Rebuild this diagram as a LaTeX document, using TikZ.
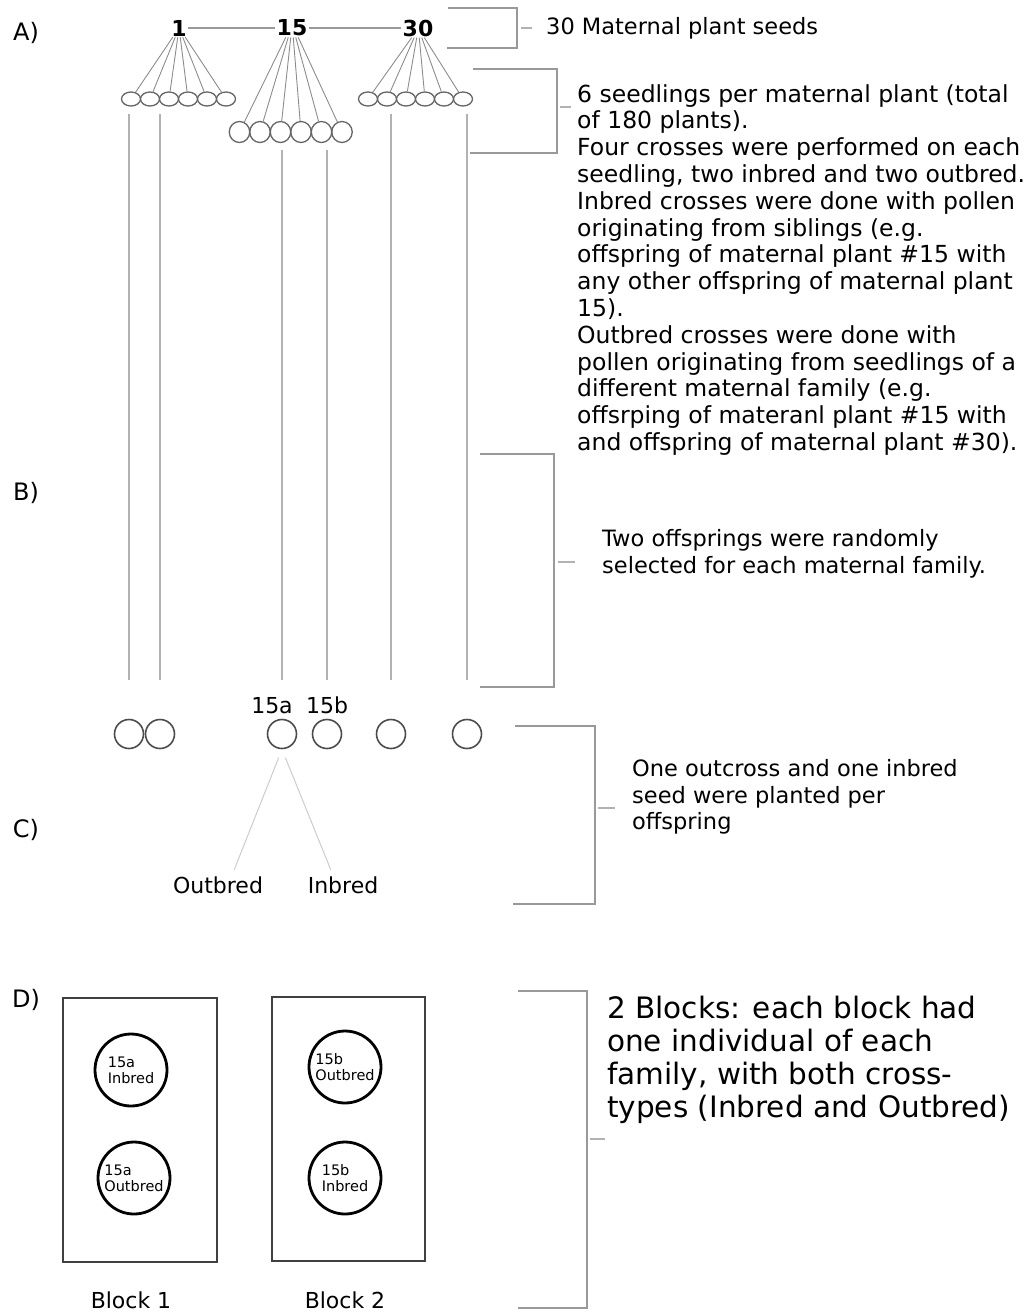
\documentclass[tikz,border=0pt]{standalone}
\usepackage{fontspec}
\setmainfont{DejaVu Sans}
\usetikzlibrary{positioning, shapes.geometric, calc}

\tikzset{
  mother/.style={font=\fontsize{22}{26}\selectfont\bfseries, inner sep=1pt},
  seedling/.style={draw=black!60, line width=1.3pt, ellipse, inner sep=0pt,
                   minimum width=19pt, minimum height=14pt},
  bigseedling/.style={seedling, minimum width=20.5pt, minimum height=21pt},
  offspring/.style={draw=black!70, circle, line width=1.6pt, inner sep=0pt,
                    minimum size=29pt},
  fan/.style={draw=black!45, line width=0.9pt},
  stem/.style={draw=black!30, line width=1.3pt},
  brk/.style={draw=black!40, line width=1.4pt},
  tick/.style={draw=black!30, line width=1.4pt},
  lab/.style={font=\fontsize{22}{26}\selectfont, inner sep=1pt},
  note/.style={font=\fontsize{22.5}{26.8}\selectfont, align=left,
               inner sep=0pt, anchor=north west},
  plot/.style={draw=black!75, line width=1.2pt, minimum width=154pt,
               minimum height=264pt, inner sep=0pt},
  plant/.style={draw, circle, line width=2.8pt, minimum size=72pt,
                inner sep=0pt, align=left, font=\fontsize{14.5}{16}\selectfont}
}

\begin{document}
\begin{tikzpicture}[x=1pt, y=-1pt]
  \useasboundingbox (0,0) rectangle (1030,1315);

  \node[lab, font=\fontsize{24}{28}\selectfont] (la) at (26,33) {A)};
  \node[lab, font=\fontsize{24}{28}\selectfont] (lb) at (26,493) {B)};
  \node[lab, font=\fontsize{24}{28}\selectfont] (lc) at (26,830) {C)};
  \node[lab, font=\fontsize{24}{28}\selectfont] (ld) at (26,1000) {D)};

  \node[mother] (m1) at (179,28) {1};
  \node[mother] (m15) at (292,28) {15};
  \node[mother] (m30) at (418,28) {30};
  \draw[black!40, line width=1.2pt] (m1.east) -- (m15.west);
  \draw[black!40, line width=1.2pt] (m15.east) -- (m30.west);

  \foreach \k/\x in {1/131,2/150,3/169,4/188,5/207,6/226}
    \node[seedling] (sa\k) at (\x,99) {};
  \foreach \k/\x in {1/239.5,2/260,3/280.5,4/301,5/321.5,6/342}
    \node[bigseedling] (sb\k) at (\x,132) {};
  \foreach \k/\x in {1/368,2/387,3/406,4/425,5/444,6/463}
    \node[seedling] (sc\k) at (\x,99) {};

  \foreach \k in {1,...,6} {
    \draw[fan] ([xshift={(\k-3.5)*2.5pt}]m1.south) -- (sa\k);
    \draw[fan] ([xshift={(\k-3.5)*2.5pt}]m15.south) -- (sb\k);
    \draw[fan] ([xshift={(\k-3.5)*2.5pt}]m30.south) -- (sc\k);
  }

  \node[offspring] (o1) at (129,734) {};
  \node[offspring] (o2) at (160,734) {};
  \node[offspring] (o3) at (282,734) {};
  \node[offspring] (o4) at (327,734) {};
  \node[offspring] (o5) at (391,734) {};
  \node[offspring] (o6) at (467,734) {};

  \draw[stem, shorten <=7pt, shorten >=39pt] (o1 |- sa1.south) -- (o1.north);
  \draw[stem, shorten <=7pt, shorten >=39pt] (o2 |- sa2.south) -- (o2.north);
  \draw[stem, shorten <=7pt, shorten >=39pt] (o3 |- sb3.south) -- (o3.north);
  \draw[stem, shorten <=7pt, shorten >=39pt] (o4 |- sb5.south) -- (o4.north);
  \draw[stem, shorten <=7pt, shorten >=39pt] (o5 |- sc2.south) -- (o5.north);
  \draw[stem, shorten <=7pt, shorten >=39pt] (o6 |- sc6.south) -- (o6.north);

  \node[lab, above=4pt of o3, xshift=-10pt] (l15a) {15a};
  \node[lab, above=4pt of o4] (l15b) {15b};

  \node[lab] (outb) at (218,885) {Outbred};
  \node[lab] (inb) at (343,885) {Inbred};
  \draw[black!20, line width=1pt, shorten <=9pt, shorten >=6pt]
    (o3.south) -- ([xshift=14pt]outb.north);
  \draw[black!20, line width=1pt, shorten <=9pt, shorten >=6pt]
    (o3.south) -- ([xshift=-10pt]inb.north);

  \node[plot] (blk1) at (140,1130) {};
  \node[plot, minimum width=153pt] (blk2) at (348.5,1129) {};
  \node[plant] (p1a) at (131,1070) {15a\\Inbred};
  \node[plant] (p1b) at (134,1178) {15a\\Outbred};
  \node[plant] (p2a) at (345,1067) {15b\\Outbred};
  \node[plant] (p2b) at (345,1178) {15b\\Inbred};
  \node[lab] (bl1) at (131,1300) {Block 1};
  \node[lab] (bl2) at (345,1300) {Block 2};

  \draw[brk] (448,8) -| (517,48) -- (447,48);
  \draw[tick] (521,28) -- (532,28);
  \node[note, anchor=west] (t1) at (546,28) {30 Maternal plant seeds};

  \draw[brk] (473,69) -| (557,153) -- (470,153);
  \draw[tick] (560,107) -- (571,107);
  \node[note, font=\fontsize{23.5}{26.8}\selectfont] (t2) at (577,84)
    {6 seedlings per maternal plant (total\\
     of 180 plants).\\
     Four crosses were performed on each\\
     seedling, two inbred and two outbred.\\
     Inbred crosses were done with pollen\\
     originating from siblings (e.g.\\
     offspring of maternal plant \#15 with\\
     any other offspring of maternal plant\\
     15).\\
     Outbred crosses were done with\\
     pollen originating from seedlings of a\\
     different maternal family (e.g.\\
     offsrping of materanl plant \#15 with\\
     and offspring of maternal plant \#30).};

  \draw[brk] (480,454) -| (554,687) -- (480,687);
  \draw[tick] (558,562) -- (575,562);
  \node[note] (t3) at (602,529)
    {Two offsprings were randomly\\selected for each maternal family.};

  \draw[brk] (515,726) -| (595,904) -- (513,904);
  \draw[tick] (598,808) -- (615,808);
  \node[note] (t4) at (632,759)
    {One outcross and one inbred\\seed were planted per\\offspring};

  \draw[brk] (518,991) -| (587,1308) -- (518,1308);
  \draw[tick] (590,1139) -- (605,1139);
  \node[note, font=\fontsize{29.5}{33}\selectfont] (t5) at (607,996)
    {2 Blocks: each block had\\one individual of each\\family, with both cross-\\types (Inbred and Outbred)};
\end{tikzpicture}
\end{document}
